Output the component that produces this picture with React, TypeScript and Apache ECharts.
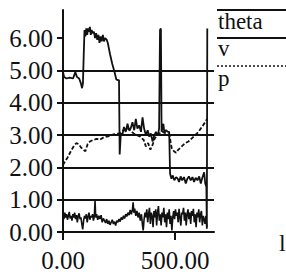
import React, { useEffect, useRef } from "react";
import * as echarts from "echarts";

const xTicks = [0, 500];
const yTicks = [0, 1, 2, 3, 4, 5, 6];
const legendLabels = ["theta", "v", "p"];
const strayLabel = "l";

const thetaData: [number, number][] = [
  [0, 4.95], [5, 4.8], [15, 4.75], [30, 4.78], [45, 4.75], [55, 4.95], [62, 4.8], [72, 4.75],
  [80, 4.6], [85, 4.45], [89, 4.6], [93, 5.6], [96, 6.25], [100, 6.05], [104, 6.3], [108, 6.1],
  [112, 6.3], [116, 6.2], [120, 6.35], [124, 6.1], [128, 6.25], [133, 6.15], [138, 6.2], [143, 6.0],
  [148, 6.15], [153, 5.95], [158, 6.1], [163, 5.85], [168, 6.05], [173, 5.9], [178, 6.1], [183, 5.9],
  [188, 6.0], [195, 5.95], [200, 5.85], [210, 5.5], [220, 5.2], [230, 4.95], [238, 4.72], [245, 4.7],
  [250, 4.7], [253, 2.4], [258, 3.05], [265, 3.0], [272, 3.25], [280, 3.1], [288, 3.35], [295, 3.15],
  [302, 3.2], [310, 3.4], [318, 3.15], [325, 3.5], [332, 3.2], [340, 3.3], [348, 3.1], [355, 3.55],
  [362, 3.2], [370, 3.0], [378, 3.15], [385, 2.95], [392, 3.05], [400, 2.8], [408, 3.0], [415, 3.1],
  [420, 3.0], [425, 3.05], [429, 3.2], [433, 6.25], [437, 6.3], [440, 3.1], [444, 3.2], [448, 3.35],
  [452, 3.1], [460, 3.15], [468, 3.1], [474, 3.1], [478, 1.8], [484, 1.65], [490, 1.75], [497, 1.6],
  [505, 1.7], [512, 1.65], [518, 1.55], [525, 1.72], [532, 1.6], [540, 1.7], [548, 1.5], [555, 1.65],
  [562, 1.72], [570, 1.6], [578, 1.7], [585, 1.55], [592, 1.68], [600, 1.6], [608, 1.72], [615, 1.5],
  [622, 1.68], [630, 1.85], [635, 1.5], [640, 1.4], [642, 0.1], [644, 6.3],
];

const vData: [number, number][] = [
  [0, 2.07], [10, 2.2], [20, 2.3], [35, 2.5], [50, 2.68], [60, 2.75], [70, 2.72], [80, 2.62],
  [90, 2.55], [100, 2.5], [110, 2.72], [120, 2.8], [135, 2.85], [150, 2.88], [165, 2.86], [180, 2.92],
  [195, 2.95], [210, 2.97], [225, 3.02], [240, 3.04], [250, 3.05], [260, 3.1], [270, 3.15], [285, 3.22],
  [300, 3.15], [315, 3.05], [330, 3.0], [345, 2.95], [360, 2.85], [370, 2.65], [380, 2.75], [390, 2.55],
  [400, 2.7], [410, 2.9], [420, 3.0], [430, 3.05], [445, 3.1], [460, 3.05], [475, 3.0], [485, 2.6],
  [495, 2.5], [505, 2.45], [515, 2.55], [530, 2.65], [545, 2.75], [560, 2.8], [575, 2.9], [590, 3.0],
  [605, 3.1], [620, 3.25], [635, 3.4], [643, 3.5],
];

const pData: [number, number][] = [
  [0, 0.55], [4, 0.4], [8, 0.6], [12, 0.45], [16, 0.55], [20, 0.38], [24, 0.5], [28, 0.62],
  [32, 0.42], [36, 0.5], [40, 0.35], [44, 0.55], [48, 0.45], [52, 0.6], [56, 0.4], [60, 0.52],
  [64, 0.3], [68, 0.5], [72, 0.58], [76, 0.4], [80, 0.45], [84, 0.25], [88, 0.08], [92, 0.35],
  [96, 0.5], [100, 0.42], [104, 0.55], [108, 0.3], [112, 0.48], [116, 0.6], [120, 0.38], [124, 0.5],
  [128, 0.45], [132, 0.55], [136, 0.35], [140, 0.5], [143, 0.98], [146, 0.45], [150, 0.55], [155, 0.38],
  [160, 0.5], [165, 0.4], [170, 0.52], [175, 0.3], [180, 0.42], [185, 0.35], [190, 0.28], [195, 0.4],
  [200, 0.25], [205, 0.35], [210, 0.22], [215, 0.3], [220, 0.38], [225, 0.25], [230, 0.32], [235, 0.2],
  [240, 0.35], [245, 0.3], [250, 0.4], [255, 0.32], [260, 0.45], [265, 0.38], [270, 0.5], [275, 0.42],
  [280, 0.55], [285, 0.48], [290, 0.6], [295, 0.52], [300, 0.68], [305, 0.55], [310, 0.7], [313, 0.92],
  [316, 0.6], [320, 0.72], [325, 0.5], [330, 0.65], [335, 0.45], [340, 0.6], [345, 0.35], [350, 0.55],
  [355, 0.2], [358, 0.05], [362, 0.4], [366, 0.6], [370, 0.45], [374, 0.7], [378, 0.3], [382, 0.55],
  [386, 0.75], [390, 0.25], [394, 0.6], [398, 0.5], [402, 0.15], [406, 0.65], [410, 0.45], [414, 0.7],
  [418, 0.2], [422, 0.6], [426, 0.8], [430, 0.35], [434, 0.55], [438, 0.2], [442, 0.6], [446, 0.45],
  [450, 0.75], [454, 0.3], [458, 0.55], [462, 0.15], [466, 0.6], [470, 0.4], [474, 0.7], [478, 0.25],
  [482, 0.5], [486, 0.05], [490, 0.45], [494, 0.65], [498, 0.4], [502, 0.7], [506, 0.5], [510, 0.6],
  [514, 0.3], [518, 0.72], [522, 0.45], [526, 0.2], [530, 0.6], [534, 0.55], [538, 0.75], [542, 0.35],
  [546, 0.6], [550, 0.2], [554, 0.55], [558, 0.7], [562, 0.4], [566, 0.6], [570, 0.25], [574, 0.65],
  [578, 0.5], [582, 0.72], [586, 0.3], [590, 0.55], [594, 0.15], [598, 0.6], [602, 0.45], [606, 0.7],
  [610, 0.3], [614, 0.55], [618, 0.65], [622, 0.2], [626, 0.5], [630, 0.4], [634, 0.25], [638, 0.5],
  [642, 0.15],
];

const INK = "#111";
const FONT = "'Liberation Serif', 'Times New Roman', serif";

export default function App() {
  const ref = useRef<HTMLDivElement>(null);
  useEffect(() => {
    if (!ref.current) return;
    const chart = echarts.init(ref.current, null, { renderer: "svg" });
    const lineStyle = { color: INK, width: 2 };
    chart.setOption({
      animation: false,
      backgroundColor: "#fff",
      grid: { left: 63, right: 72, top: 10, bottom: 43, outerBoundsMode: "none" },
      xAxis: {
        type: "value",
        min: 0,
        max: 674,
        interval: 500,
        axisLine: { show: true, onZero: true, lineStyle },
        axisTick: { show: true, length: 8, customValues: xTicks, lineStyle },
        axisLabel: {
          customValues: xTicks,
          formatter: (v: number) => v.toFixed(2),
          margin: 16,
          fontSize: 25,
          fontFamily: FONT,
          color: INK,
        },
        splitLine: { show: true, showMinLine: false, showMaxLine: false, lineStyle },
      },
      yAxis: {
        type: "value",
        min: 0,
        max: 6.87,
        interval: 1,
        axisLine: { show: true, lineStyle },
        axisTick: { show: true, length: 6, customValues: yTicks, lineStyle },
        axisLabel: {
          customValues: yTicks,
          formatter: (v: number) => v.toFixed(2),
          margin: 10,
          fontSize: 25,
          fontFamily: FONT,
          color: INK,
        },
        splitLine: { show: true, showMinLine: false, showMaxLine: false, lineStyle },
      },
      series: [
        { name: legendLabels[0], type: "line", data: thetaData, symbol: "none", lineStyle: { color: INK, width: 1.8 } },
        { name: legendLabels[1], type: "line", data: vData, symbol: "none", lineStyle: { color: INK, width: 1.8, type: [4, 2] } },
        { name: legendLabels[2], type: "line", data: pData, symbol: "none", lineStyle: { color: INK, width: 1.6 } },
      ],
      graphic: [
        { type: "line", shape: { x1: 217, y1: 10, x2: 286, y2: 10 }, style: { stroke: INK, lineWidth: 2 } },
        { type: "text", x: 218, y: 21, style: { text: legendLabels[0], fill: INK, fontSize: 23, fontFamily: FONT, verticalAlign: "middle" } },
        { type: "line", shape: { x1: 217, y1: 38, x2: 286, y2: 38 }, style: { stroke: INK, lineWidth: 2 } },
        { type: "text", x: 218, y: 48, style: { text: legendLabels[1], fill: INK, fontSize: 23, fontFamily: FONT, verticalAlign: "middle" } },
        { type: "line", shape: { x1: 217, y1: 66, x2: 286, y2: 66 }, style: { stroke: INK, lineWidth: 1.5, lineDash: [2, 2] } },
        { type: "text", x: 218, y: 78, style: { text: legendLabels[2], fill: INK, fontSize: 23, fontFamily: FONT, verticalAlign: "middle" } },
        { type: "text", x: 279, y: 243, style: { text: strayLabel, fill: INK, fontSize: 24, fontFamily: FONT, verticalAlign: "middle" } },
      ],
    });
    return () => chart.dispose();
  }, []);
  return (
    <div
      ref={ref}
      style={{ position: "absolute", left: 0, top: 0, width: 286, height: 275 }}
    />
  );
}
